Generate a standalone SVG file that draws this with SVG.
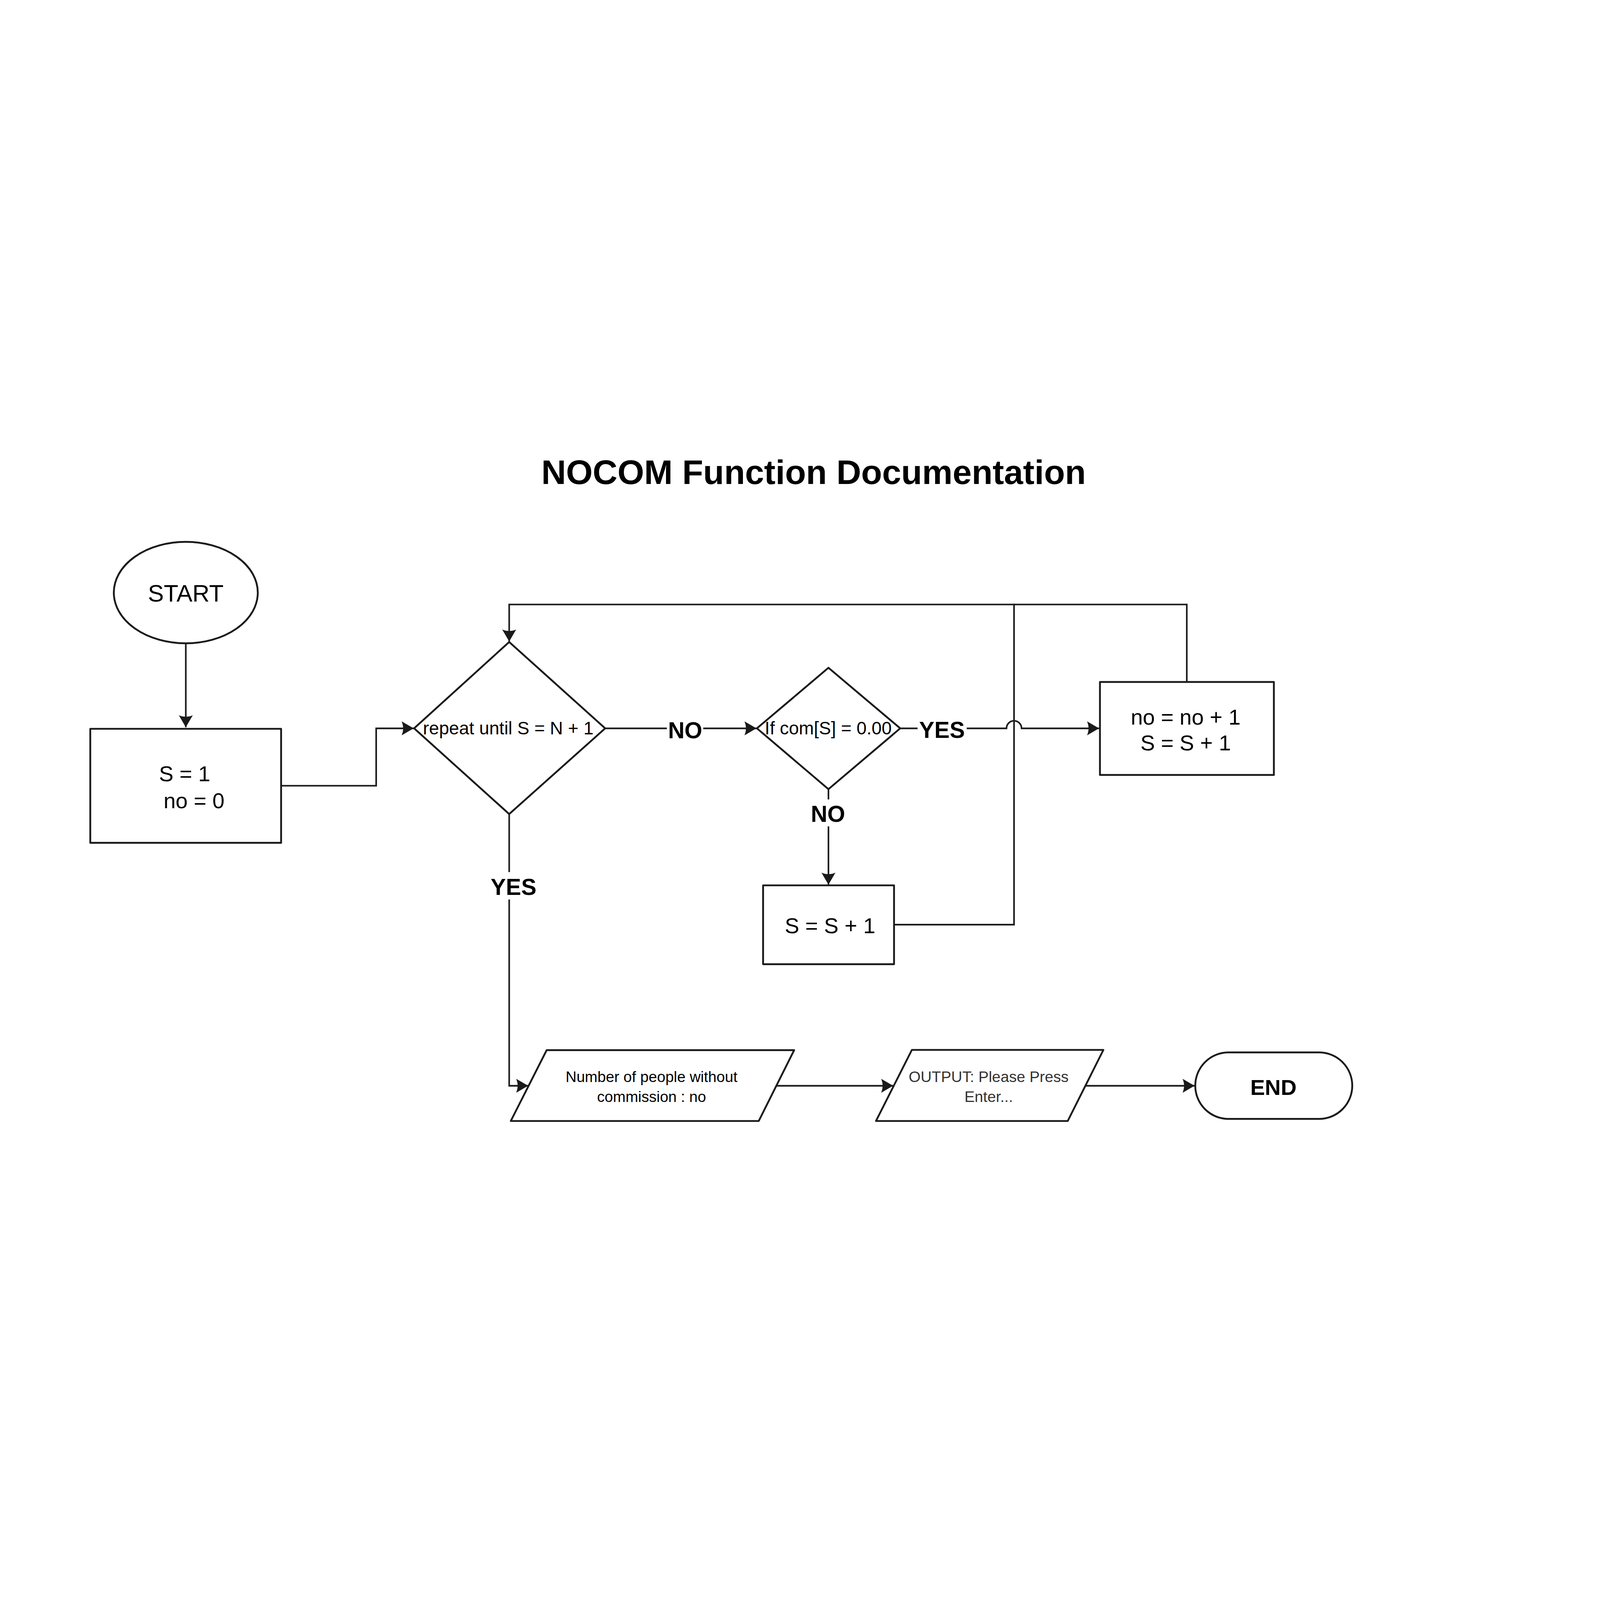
<svg xmlns="http://www.w3.org/2000/svg" width="7001" height="4251" viewBox="0 0 7001 4251" style="width:100vw;height:100vh">
<style>
.shape{fill:#ffffff;stroke:#1a1a1a;stroke-width:8;stroke-linejoin:round}
.conn{fill:none;stroke:#1a1a1a;stroke-width:7;stroke-linejoin:miter}
.t{font-family:"Liberation Sans",Arial,sans-serif;fill:#000000;text-anchor:middle}
.lbl{font-family:"Liberation Sans",Arial,sans-serif;font-weight:bold;font-size:100px;fill:#000000;text-anchor:middle}
</style>
<defs>
<marker id="arr" markerUnits="userSpaceOnUse" markerWidth="60" markerHeight="70" viewBox="-50 -32 52 64" refX="0" refY="0" orient="auto">
<path d="M0,0 L-48,-28 Q-36,0 -48,28 Z" fill="#1a1a1a"/>
</marker>
</defs>
<rect width="7001" height="4251" fill="#ffffff"/>
<text class="t" x="3560" y="743" font-size="150" font-weight="bold">NOCOM Function Documentation</text>
<g id="connectors">
<path class="conn" d="M813,1441 V1807" marker-end="url(#arr)"/>
<path class="conn" d="M1230,2063 H1646 V1812 H1810" marker-end="url(#arr)"/>
<path class="conn" d="M2648,1812 H2918"/>
<path class="conn" d="M3077,1812 H3310" marker-end="url(#arr)"/>
<path class="conn" d="M3939,1812 H4015"/>
<path class="conn" d="M4230,1812 H4404 A33,33 0 0 1 4470,1812 H4809" marker-end="url(#arr)"/>
<path class="conn" d="M3625,2078 V2123"/>
<path class="conn" d="M3625,2241 V2496" marker-end="url(#arr)"/>
<path class="conn" d="M3912,2671 H4437 V1270 H2228 V1432" marker-end="url(#arr)"/>
<path class="conn" d="M5193,1609 V1270 H4437"/>
<path class="conn" d="M2228,2187 V2441"/>
<path class="conn" d="M2228,2561 V3376 H2311" marker-end="url(#arr)"/>
<path class="conn" d="M3397,3376 H3908" marker-end="url(#arr)"/>
<path class="conn" d="M4750,3376 H5227" marker-end="url(#arr)"/>
<text class="lbl" x="2998" y="1855">NO</text>
<text class="lbl" x="4122" y="1853">YES</text>
<text class="lbl" x="3623" y="2222">NO</text>
<text class="lbl" x="2247" y="2541">YES</text>
</g>
<g id="start">
<ellipse class="shape" cx="813" cy="1218" rx="315" ry="222"/>
<text class="t" x="813" y="1258" font-size="104">START</text>
</g>
<g id="init">
<rect class="shape" x="395" y="1814" width="835" height="499"/>
<text class="t" x="808" y="2043" font-size="95">S = 1</text>
<text class="t" x="849" y="2161" font-size="95">no = 0</text>
</g>
<g id="repeat">
<polygon class="shape" points="2228,1434 2648,1812 2228,2187 1812,1812"/>
<text class="t" x="2224" y="1839" font-size="79">repeat until S = N + 1</text>
</g>
<g id="ifcom">
<polygon class="shape" points="3625,1547 3939,1812 3625,2078 3312,1812"/>
<text class="t" x="3624" y="1839" font-size="79">If com[S] = 0.00</text>
</g>
<g id="incno">
<rect class="shape" x="4813" y="1609" width="761" height="407"/>
<text class="t" x="5188" y="1795" font-size="95">no = no + 1</text>
<text class="t" x="5188" y="1909" font-size="95">S = S + 1</text>
</g>
<g id="incs">
<rect class="shape" x="3339" y="2499" width="573" height="345"/>
<text class="t" x="3632" y="2709" font-size="95">S = S + 1</text>
</g>
<g id="outcount">
<polygon class="shape" points="2392,3220 3475,3220 3320,3530 2235,3530"/>
<text class="t" x="2851" y="3360" font-size="66">Number of people without</text>
<text class="t" x="2851" y="3446" font-size="66">commission : no</text>
</g>
<g id="outpress">
<polygon class="shape" points="3990,3219 4828,3219 4672,3530 3833,3530"/>
<text class="t" x="4326" y="3359" font-size="67" style="fill:#333333">OUTPUT: Please Press</text>
<text class="t" x="4326" y="3446" font-size="67" style="fill:#333333">Enter...</text>
</g>
<g id="end">
<rect class="shape" x="5230" y="3230" width="687" height="291" rx="145.5" ry="145.5"/>
<text class="t" x="5572" y="3416" font-size="96" font-weight="bold">END</text>
</g>
</svg>
